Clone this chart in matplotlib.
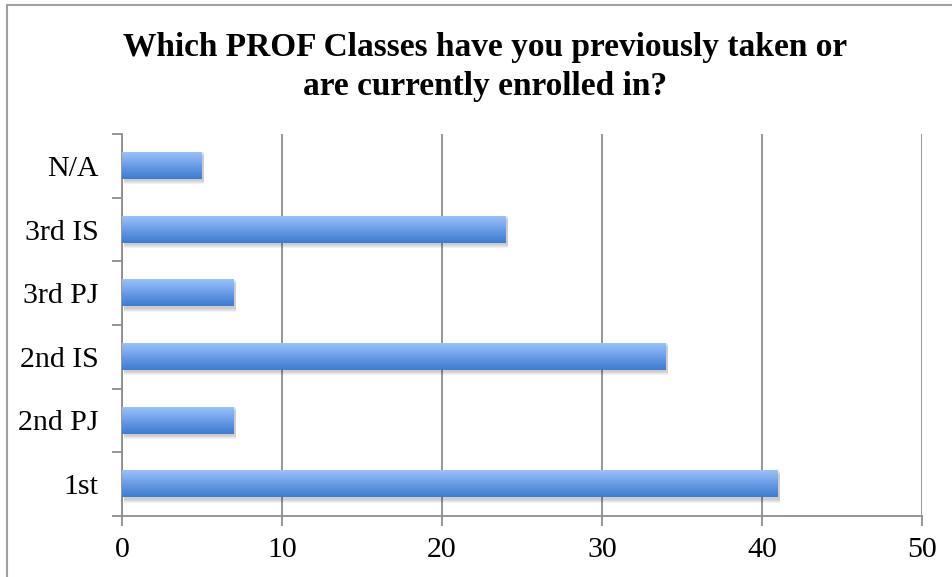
import numpy as np
import matplotlib
matplotlib.use("Agg")
import matplotlib.pyplot as plt
from matplotlib.colors import LinearSegmentedColormap
from matplotlib.patches import Rectangle

# survey answers (bottom to top)
categories = ["1st", "2nd PJ", "2nd IS", "3rd PJ", "3rd IS", "N/A"]
counts = [41, 7, 34, 7, 24, 5]
x_ticks = [0, 10, 20, 30, 40, 50]
title = "Which PROF Classes have you previously taken or\nare currently enrolled in?"

plt.rcParams['font.family'] = ['Liberation Serif', 'DejaVu Serif']

fig = plt.figure(figsize=(9.53, 5.77), dpi=100)
W, H = 953, 577
ax = fig.add_axes([122 / W, 1 - 516 / H, 800 / W, (516 - 134) / H])

# light frame around the chart
fig.patches.append(Rectangle((7 / W, -0.1), 1.2, 1 - 5 / H + 0.1, transform=fig.transFigure,
                             fill=False, edgecolor="#a0a0a0", linewidth=1.5))

grey = "#8e8e8e"
pos = np.arange(len(categories))
bar_h = 0.41

# soft drop shadow
for k in range(4):
    ax.barh(pos - 0.04, counts, height=bar_h + 0.03 * k, left=0.1, color="black",
            alpha=0.05, linewidth=0, zorder=2)
bars = ax.barh(pos, counts, height=bar_h, color="#6a9be6", linewidth=0, zorder=3)

# vertical gradient on each bar
cmap = LinearSegmentedColormap.from_list("bar", ["#3e7bd0", "#6a9ce6", "#9ac2fa"])
grad = np.linspace(0, 1, 64).reshape(-1, 1)
for b in bars:
    x0, y0 = b.get_x(), b.get_y()
    ax.imshow(grad, cmap=cmap, aspect="auto", origin="lower",
              extent=[x0, x0 + b.get_width(), y0, y0 + b.get_height()], zorder=4)

ax.set_xlim(0, 50)
ax.set_ylim(-0.5, len(categories) - 0.5)

ax.set_xticks(x_ticks)
ax.set_xticklabels([str(t) for t in x_ticks], fontsize=21.5)
ax.xaxis.grid(True, color=grey, linewidth=1.3, zorder=1)
ax.set_axisbelow(True)

# ticks sit between categories, labels at the centres
ax.set_yticks(np.arange(len(categories) + 1) - 0.5)
ax.set_yticklabels([])
ax.set_yticks(pos, minor=True)
ax.set_yticklabels(categories, minor=True, fontsize=21.5)
ax.tick_params(axis="y", which="minor", length=0, pad=17)
ax.tick_params(axis="y", which="major", length=7, width=1.3, color=grey)
ax.tick_params(axis="x", length=7, width=1.3, color=grey, pad=8)

for s in ["top", "right"]:
    ax.spines[s].set_visible(False)
for s in ["left", "bottom"]:
    ax.spines[s].set_color(grey)
    ax.spines[s].set_linewidth(1.3)

fig.text(485 / W, 1 - 67 / H, title, ha="center", va="center", fontsize=24,
         fontweight="bold", linespacing=1.3)

fig.savefig("out.png", dpi=100)
